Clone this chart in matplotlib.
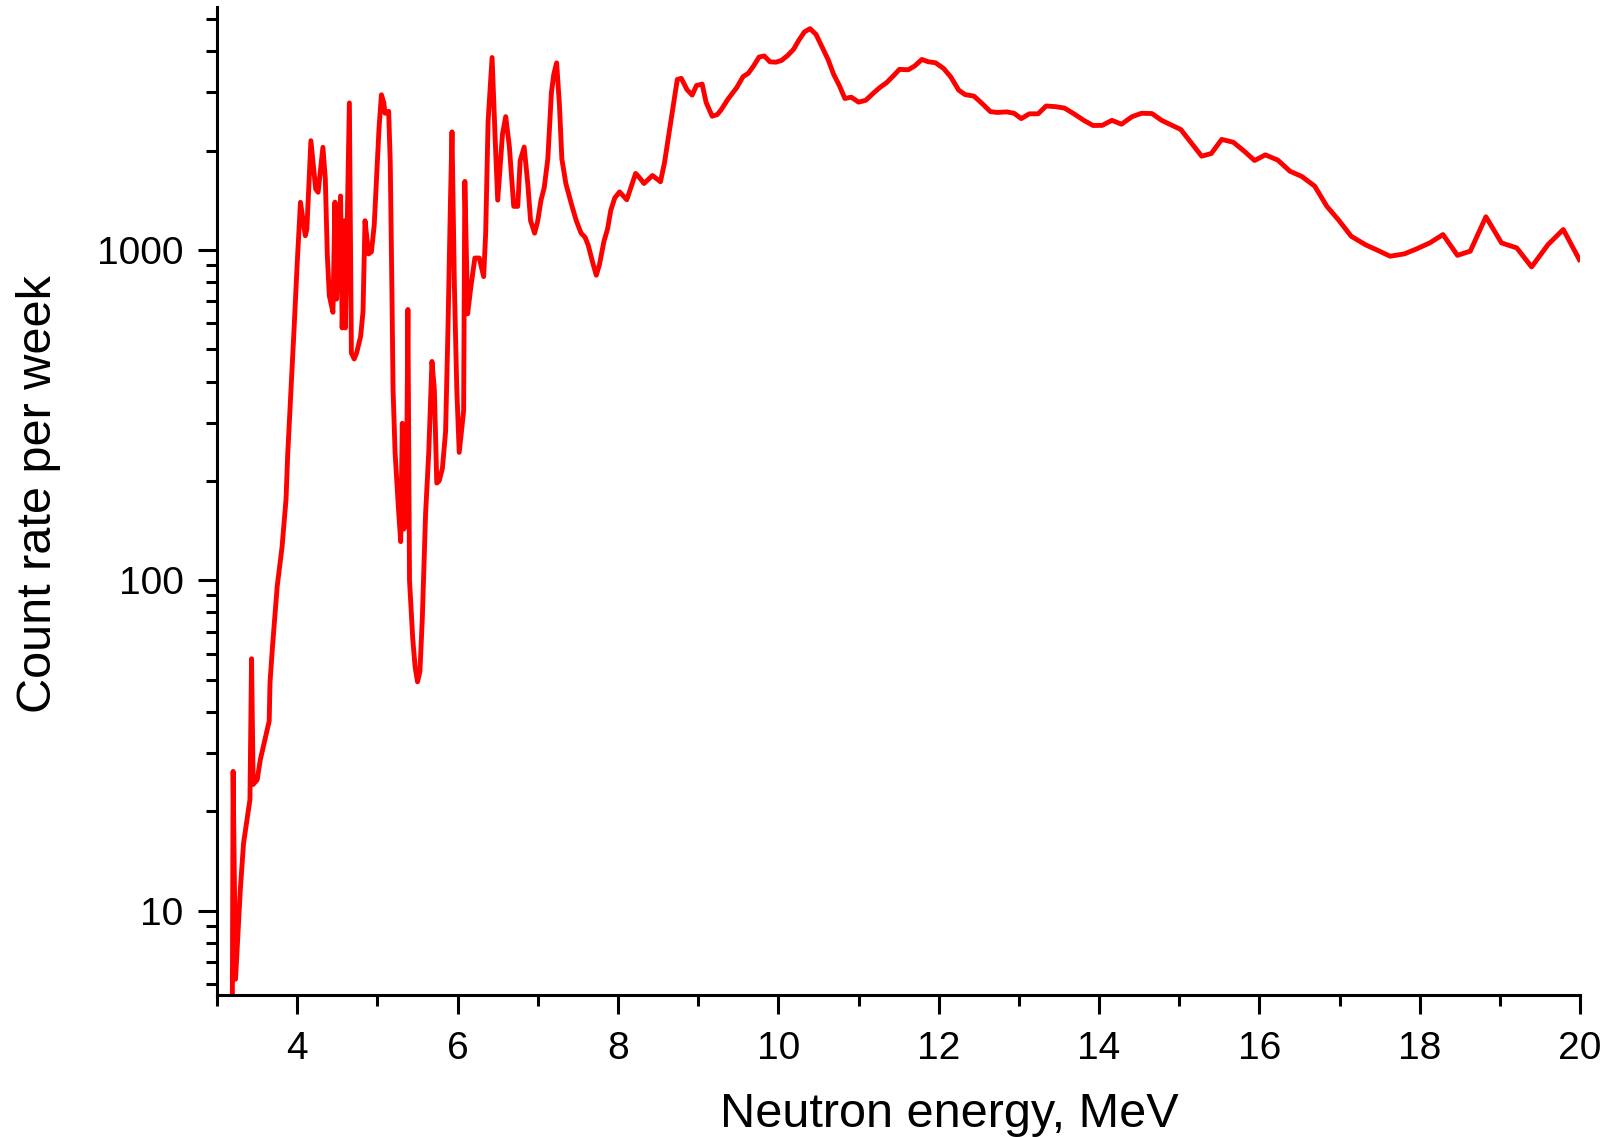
import matplotlib
matplotlib.use("Agg")
import matplotlib.pyplot as plt
from matplotlib.ticker import LogLocator, NullFormatter, MultipleLocator, FixedLocator

plt.rcParams['font.family'] = ['Liberation Sans', 'DejaVu Sans']

# neutron energy (MeV) and count rate per week
energia = [3.19, 3.20, 3.23, 3.29, 3.33, 3.41, 3.43, 3.45, 3.50, 3.54, 3.65, 3.66,
           3.69, 3.75, 3.81, 3.86, 3.88, 3.96, 4.00, 4.04, 4.10, 4.12, 4.17, 4.23,
           4.26, 4.32, 4.35, 4.375, 4.40, 4.445, 4.47, 4.49, 4.54, 4.56, 4.59, 4.60,
           4.65, 4.675, 4.71, 4.74, 4.79, 4.82, 4.845, 4.89, 4.925, 4.96, 4.99, 5.02,
           5.05, 5.08, 5.095, 5.14, 5.16, 5.18, 5.195, 5.22, 5.26, 5.29, 5.31, 5.33,
           5.36, 5.38, 5.40, 5.44, 5.47, 5.50, 5.53, 5.56, 5.60, 5.64, 5.68, 5.71,
           5.74, 5.77, 5.81, 5.85, 5.88, 5.91, 5.93, 5.96, 5.99, 6.02, 6.075, 6.09,
           6.125, 6.165, 6.215, 6.27, 6.325, 6.35, 6.38, 6.43, 6.47, 6.50, 6.56, 6.60,
           6.645, 6.70, 6.75, 6.78, 6.83, 6.875, 6.91, 6.96, 7.00, 7.04, 7.08, 7.125,
           7.17, 7.20, 7.235, 7.27, 7.30, 7.35, 7.42, 7.48, 7.54, 7.59, 7.63, 7.69,
           7.73, 7.77, 7.825, 7.87, 7.91, 7.96, 8.02, 8.11, 8.22, 8.27, 8.325, 8.43,
           8.53, 8.58, 8.67, 8.74, 8.79, 8.86, 8.925, 8.98, 9.05, 9.10, 9.175, 9.24,
           9.29, 9.37, 9.48, 9.56, 9.625, 9.69, 9.76, 9.825, 9.895, 9.97, 10.04, 10.115,
           10.19, 10.25, 10.325, 10.395, 10.47, 10.54, 10.62, 10.69, 10.76, 10.83, 10.91, 11.00,
           11.09, 11.19, 11.27, 11.35, 11.44, 11.51, 11.62, 11.70, 11.79, 11.87, 11.96, 12.06,
           12.15, 12.25, 12.33, 12.44, 12.54, 12.645, 12.73, 12.85, 12.94, 13.03, 13.13, 13.24,
           13.34, 13.46, 13.57, 13.70, 13.81, 13.925, 14.04, 14.16, 14.28, 14.41, 14.53, 14.66,
           14.78, 15.02, 15.28, 15.40, 15.53, 15.675, 15.81, 15.94, 16.075, 16.23, 16.38, 16.53,
           16.69, 16.84, 16.99, 17.145, 17.325, 17.48, 17.63, 17.81, 17.96, 18.125, 18.29, 18.47,
           18.63, 18.825, 19.02, 19.21, 19.395, 19.60, 19.79, 19.99]

conteo = [5.0, 26.4, 6.2, 11.6, 16.0, 21.7, 57.9, 24.1, 24.9, 28.7, 37.5, 49,
          62.5, 96, 126, 176, 238, 576, 918, 1395, 1105, 1158, 2143, 1530,
          1496, 2047, 1641, 961, 727, 648, 1397, 710, 1458, 581, 1227, 581,
          2790, 488, 468, 488, 547, 650, 1227, 973, 988, 1191, 1683, 2345,
          2952, 2787, 2595, 2630, 1836, 773, 377, 244, 168, 131, 299, 143,
          158, 661, 100, 66.8, 54.6, 49.3, 53, 77, 158, 244, 460, 377,
          197, 200, 218, 282, 581, 1376, 2280, 773, 377, 244, 326, 1614,
          641, 773, 946, 946, 831, 1125, 2450, 3828, 2120, 1416, 2248, 2535,
          2060, 1356, 1356, 1862, 2050, 1590, 1227, 1125, 1227, 1416, 1544, 1888,
          2998, 3412, 3687, 2748, 1888, 1590, 1376, 1227, 1125, 1093, 1032, 906,
          839, 906, 1062, 1158, 1318, 1438, 1500, 1420, 1706, 1655, 1590, 1682,
          1610, 1837, 2542, 3286, 3310, 3062, 2945, 3150, 3180, 2795, 2542, 2573,
          2665, 2860, 3100, 3350, 3427, 3605, 3840, 3870, 3715, 3705, 3750, 3880,
          4052, 4295, 4575, 4680, 4497, 4146, 3777, 3403, 3152, 2877, 2903, 2805,
          2840, 2993, 3111, 3212, 3378, 3524, 3514, 3607, 3777, 3716, 3690, 3549,
          3345, 3048, 2955, 2925, 2780, 2625, 2610, 2620, 2595, 2500, 2585, 2585,
          2730, 2717, 2690, 2573, 2470, 2383, 2385, 2470, 2405, 2533, 2595, 2590,
          2470, 2317, 1924, 1960, 2163, 2120, 1993, 1867, 1942, 1872, 1733, 1670,
          1561, 1358, 1231, 1101, 1037, 997, 958, 974, 1008, 1051, 1114, 964,
          992, 1261, 1051, 1015, 889, 1039, 1154, 936]

x_ticks = [4, 6, 8, 10, 12, 14, 16, 18, 20]
y_ticks = [10, 100, 1000]
y_labels = ["10", "100", "1000"]

fig = plt.figure(figsize=(16.14, 11.37), dpi=100)
ax = fig.add_axes([0.1345, 0.125, 0.8445, 0.869])

ax.plot(energia, conteo, color="#ff0000", lw=3.5)

ax.set_yscale("log")
ax.set_xlim(3, 20)
ax.set_ylim(5.56, 5450)

ax.xaxis.set_major_locator(FixedLocator(x_ticks))
ax.xaxis.set_minor_locator(MultipleLocator(1))
ax.set_yticks(y_ticks)
ax.set_yticklabels(y_labels)
ax.yaxis.set_minor_locator(LogLocator(base=10, subs=range(2, 10), numticks=20))
ax.yaxis.set_minor_formatter(NullFormatter())

for s in ["top", "right"]:
    ax.spines[s].set_visible(False)
for s in ["left", "bottom"]:
    ax.spines[s].set_linewidth(2.2)

ax.tick_params(which="major", direction="out", length=14, width=2.2, labelsize=28)
ax.tick_params(which="minor", direction="out", length=8, width=2.2)
ax.tick_params(axis="y", which="major", pad=10)
ax.tick_params(axis="x", which="major", pad=12)

ax.set_xlabel("Neutron energy, MeV", fontsize=35, labelpad=18, x=0.537)
ax.set_ylabel("Count rate per week", fontsize=35, labelpad=26, y=0.507)

fig.savefig("out.png", dpi=100)
